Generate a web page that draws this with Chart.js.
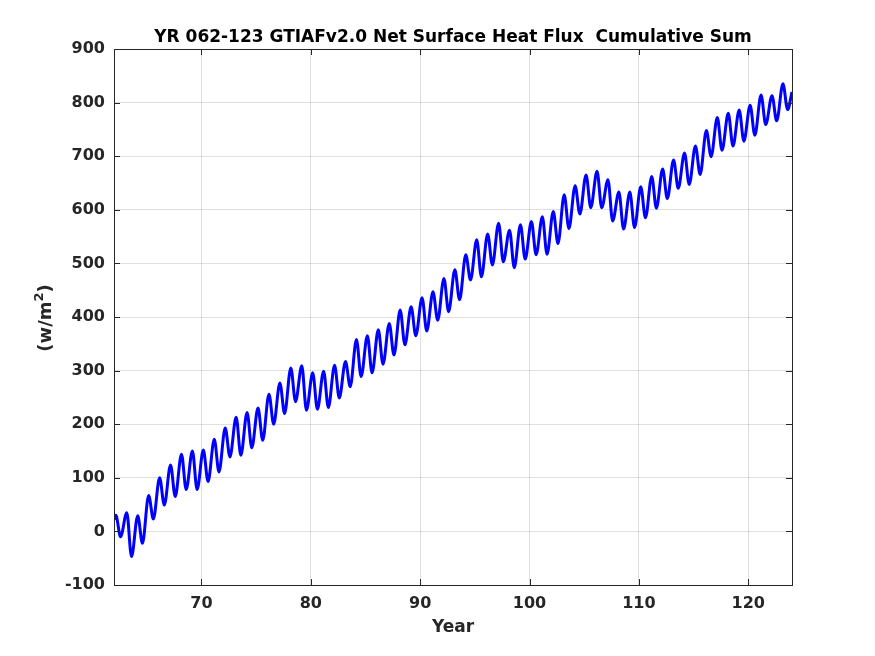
<!DOCTYPE html>
<html>
<head>
<meta charset="utf-8">
<script src="https://cdn.jsdelivr.net/npm/chart.js@4.4.1/dist/chart.umd.min.js"></script>
<style>
  html, body { margin: 0; padding: 0; background: #fff; }
  canvas { display: block; }
</style>
</head>
<body>
<canvas id="fluxChart" width="875" height="656"></canvas>
<script>
// cumulative sum: one peak and one trough per model year
const firstYear = 62;
const lastYear = 124;
const startValue = 22;
const endValue = 820;
const peakPhase = 0.17;   // fraction of the year where the seasonal max sits
const troughPhase = 0.6;  // and the seasonal min

const annualPeaks = [
  30, 35, 29, 67, 100, 124, 144, 150, 152, 172,
  193, 213, 222, 230, 256, 277, 305, 309, 296, 299,
  310, 317, 358, 365, 376, 388, 413, 419, 436, 447,
  472, 488, 516, 544, 555, 575, 562, 572, 578, 587,
  597, 628, 645, 665, 672, 656, 633, 633, 643, 662,
  676, 693, 706, 719, 748, 772, 780, 786, 795, 814,
  813, 835
];
const annualTroughs = [
  -10, -47, -22, 23, 49, 65, 78, 78, 93, 111,
  139, 142, 156, 170, 200, 220, 242, 226, 228, 231,
  249, 270, 289, 296, 312, 329, 348, 365, 374, 394,
  410, 432, 469, 475, 497, 503, 492, 508, 516, 517,
  537, 565, 592, 604, 604, 579, 564, 567, 585, 603,
  621, 640, 647, 666, 699, 711, 719, 728, 739, 759,
  766, 787
];

const xTicks = [70, 80, 90, 100, 110, 120];
const yTicks = [-100, 0, 100, 200, 300, 400, 500, 600, 700, 800, 900];

let points = [{x: firstYear, y: startValue}];
annualPeaks.forEach((p, i) => {
  points.push({x: firstYear + i + peakPhase, y: p});
  points.push({x: firstYear + i + troughPhase, y: annualTroughs[i]});
});
points.push({x: lastYear, y: endValue});

const axisColor = '#262626';
const font = "'DejaVu Sans', sans-serif";

// MATLAB style box with ticks pointing inwards, the title and the y label
const frame = {
  id: 'frame',
  afterDatasetsDraw(chart) {
    const {ctx, chartArea: a, scales} = chart;
    ctx.save();
    ctx.strokeStyle = axisColor;
    ctx.lineWidth = 1;
    ctx.beginPath();
    xTicks.forEach(v => {
      let px = Math.round(scales.x.getPixelForValue(v)) + 0.5;
      ctx.moveTo(px, a.bottom); ctx.lineTo(px, a.bottom - 6);
      ctx.moveTo(px, a.top); ctx.lineTo(px, a.top + 6);
    });
    yTicks.forEach(v => {
      let py = Math.round(scales.y.getPixelForValue(v)) + 0.5;
      ctx.moveTo(a.left, py); ctx.lineTo(a.left + 6, py);
      ctx.moveTo(a.right, py); ctx.lineTo(a.right - 6, py);
    });
    ctx.stroke();
    ctx.strokeRect(Math.round(a.left) + 0.5, Math.round(a.top) + 0.5,
      Math.round(a.right - a.left), Math.round(a.bottom - a.top));

    ctx.fillStyle = '#000';
    ctx.font = 'bold 17px ' + font;
    ctx.textAlign = 'center';
    ctx.textBaseline = 'alphabetic';
    ctx.fillText('YR 062-123 GTIAFv2.0 Net Surface Heat Flux  Cumulative Sum', (a.left + a.right) / 2, 42);

    // (w/m^2) with a raised 2
    const big = 'bold 18px ' + font, small = 'bold 13px ' + font;
    ctx.fillStyle = axisColor;
    ctx.textAlign = 'left';
    ctx.font = big;
    let w1 = ctx.measureText('(w/m').width, w3 = ctx.measureText(')').width;
    ctx.font = small;
    let w2 = ctx.measureText('2').width;
    ctx.translate(51, (a.top + a.bottom) / 2 + 1);
    ctx.rotate(-Math.PI / 2);
    let x0 = -(w1 + w2 + w3) / 2;
    ctx.font = big;
    ctx.fillText('(w/m', x0, 0);
    ctx.font = small;
    ctx.fillText('2', x0 + w1, -8);
    ctx.font = big;
    ctx.fillText(')', x0 + w1 + w2, 0);
    ctx.restore();
  }
};

let ctx = document.getElementById('fluxChart');
let fluxChart = new Chart(ctx, {
  type: 'line',
  data: {
    datasets: [{
      label: 'Cumulative Sum',
      data: points,
      borderColor: 'rgb(0, 0, 255)',
      borderWidth: 3,
      pointRadius: 0,
      fill: false,
      cubicInterpolationMode: 'monotone'
    }]
  },
  options: {
    responsive: false,
    animation: false,
    devicePixelRatio: 1,
    layout: {padding: {left: 0, top: 49, right: 83, bottom: 0}},
    plugins: {legend: {display: false}, tooltip: {enabled: false}},
    scales: {
      x: {
        type: 'linear',
        min: firstYear,
        max: lastYear,
        afterBuildTicks: s => { s.ticks = xTicks.map(v => ({value: v})); },
        afterFit: s => { s.height = 71; },
        grid: {color: 'rgba(38,38,38,0.15)', drawTicks: false},
        border: {display: false},
        ticks: {color: axisColor, font: {family: font, size: 16, weight: 'bold'}, padding: 9, maxRotation: 0},
        title: {display: true, text: 'Year', color: axisColor, font: {family: font, size: 17, weight: 'bold'}, padding: {top: 0, bottom: 18}}
      },
      y: {
        min: -100,
        max: 900,
        afterBuildTicks: s => { s.ticks = yTicks.map(v => ({value: v})); },
        afterFit: s => { s.width = 114; },
        grid: {color: 'rgba(38,38,38,0.15)', drawTicks: false},
        border: {display: false},
        ticks: {color: axisColor, font: {family: font, size: 16, weight: 'bold'}, padding: 9}
      }
    }
  },
  plugins: [frame]
});
</script>
</body>
</html>
